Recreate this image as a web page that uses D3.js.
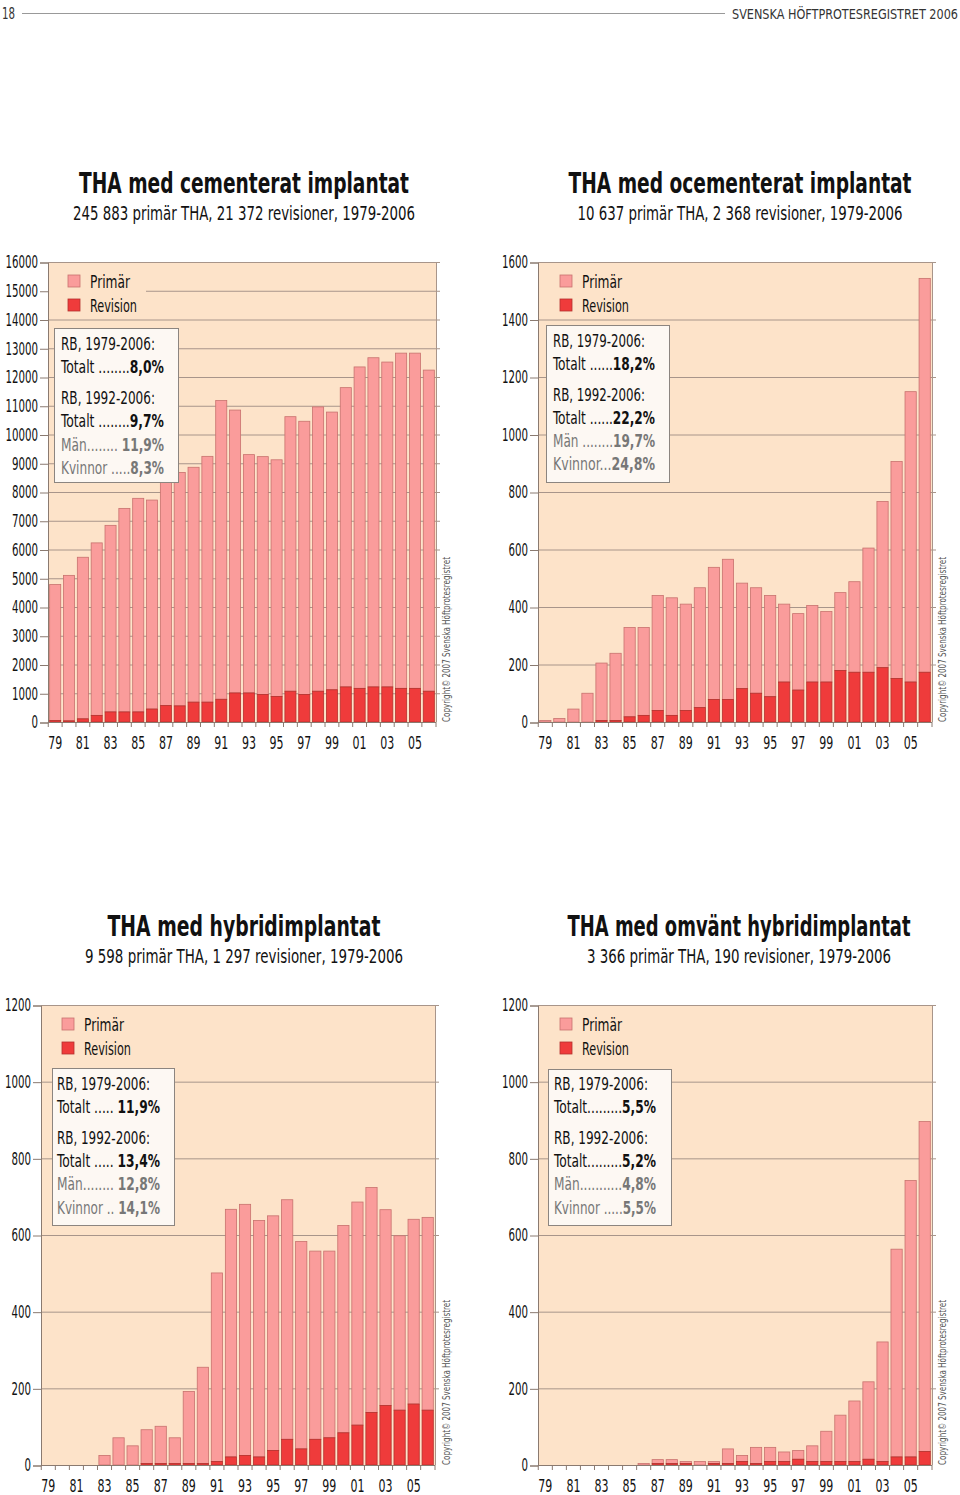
<!DOCTYPE html>
<html><head><meta charset="utf-8">
<script src="https://cdn.jsdelivr.net/npm/d3@7"></script>
<style>
body{margin:0;background:#fff;}
text{font-family:"Liberation Sans Narrow","DejaVu Sans Condensed","Roboto Condensed",sans-serif;}
</style></head><body>
<svg id="c" width="960" height="1495"></svg>
<script>
const years = ["79","80","81","82","83","84","85","86","87","88","89","90","91","92","93","94","95","96","97","98","99","00","01","02","03","04","05","06"];
const yearLabels = ["79","81","83","85","87","89","91","93","95","97","99","01","03","05"];

const cemPrimar = [4730,5060,5620,6000,6490,7080,7430,7270,7860,8120,8170,8550,10390,9840,8290,8270,8230,9550,9500,9890,9660,10410,11180,11450,11300,11660,11660,11170];
const cemRevision = [50,40,110,230,350,350,350,450,570,560,690,690,790,1010,1010,960,890,1070,960,1070,1120,1220,1170,1220,1220,1170,1170,1070];

const ocemPrimar = [5,12,45,100,200,234,311,306,400,409,370,417,460,488,367,367,352,271,266,266,245,271,315,432,578,755,1010,1370];
const ocemRevision = [0,0,0,0,5,5,18,23,40,23,40,50,78,78,116,100,88,139,111,139,139,179,173,173,189,151,139,173];

const hybPrimar = [0,0,0,0,25,71,50,88,97,67,188,251,492,646,655,617,612,625,541,491,487,541,582,587,511,455,482,503];
const hybRevision = [0,0,0,0,0,0,0,4,4,4,4,4,9,21,25,21,38,67,42,67,71,84,104,137,155,143,159,143];

const omvPrimar = [0,0,0,0,0,0,0,4,10,10,5,9,5,38,16,42,37,25,23,41,79,121,158,202,312,542,721,861];
const omvRevision = [0,0,0,0,0,0,0,0,4,4,4,0,4,4,9,4,9,9,15,9,9,9,9,15,9,21,21,35];

const cemTicks = d3.range(0,16001,1000);
const ocemTicks = d3.range(0,1601,200);
const hybTicks = d3.range(0,1201,200);
const omvTicks = d3.range(0,1201,200);

const titles = ["THA med cementerat implantat","THA med ocementerat implantat","THA med hybridimplantat","THA med omvänt hybridimplantat"];
const subtitles = ["245 883 primär THA, 21 372 revisioner, 1979-2006","10 637 primär THA, 2 368 revisioner, 1979-2006","9 598 primär THA, 1 297 revisioner, 1979-2006","3 366 primär THA, 190 revisioner, 1979-2006"];
const legendLabels = ["Primär","Revision"];
const statHeads = ["RB, 1979-2006:","RB, 1992-2006:"];
const statLabels = [
  ["Totalt ........","Totalt ........","Män........ ","Kvinnor ....."],
  ["Totalt ......","Totalt ......","Män ........","Kvinnor..."],
  ["Totalt ..... ","Totalt ..... ","Män........ ","Kvinnor .. "],
  ["Totalt.........","Totalt.........","Män...........","Kvinnor ....."]
];
const statValues = [
  ["8,0%","9,7%","11,9%","8,3%"],
  ["18,2%","22,2%","19,7%","24,8%"],
  ["11,9%","13,4%","12,8%","14,1%"],
  ["5,5%","5,2%","4,8%","5,5%"]
];
const copyright = "Copyright© 2007 Svenska Höftprotesregistret";

const C = {bg:"#fde3c9", grid:"#a8958a", prim:"#fa9c9b", primS:"#c8726e", rev:"#ef3b3b", revS:"#b5312d", axis:"#8a7a70"};
const svg = d3.select("#c");
function fit(sel,w){ return sel.attr("textLength",w).attr("lengthAdjust","spacingAndGlyphs"); }

// header
fit(svg.append("text").attr("x",2).attr("y",18.5).attr("font-size",15).attr("fill","#333").text("18"),13);
svg.append("line").attr("x1",22).attr("x2",725).attr("y1",13.5).attr("y2",13.5).attr("stroke","#999").attr("stroke-width",1);
fit(svg.append("text").attr("x",732).attr("y",19).attr("font-size",14.5).attr("fill","#333"),226).text("SVENSKA HÖFTPROTESREGISTRET 2006");

const charts = [
  {prim:cemPrimar, rev:cemRevision, ticks:cemTicks, max:16000, L:48, R:436, T:262, B:722, tx:244, ty:193, tw:330, sty:220, sw:342,
   leg:{x:68,y:281}, legRect:{x2:146,y1:266,y2:316}, box:{x1:54,x2:178,y1:328,y2:482,tx:61,hw:94,vw:103}, lines:[349,372,403,426,450,473], cx:450},
  {prim:ocemPrimar, rev:ocemRevision, ticks:ocemTicks, max:1600, L:538, R:932, T:262, B:722, tx:740, ty:193, tw:343, sty:220, sw:325,
   leg:{x:560,y:281}, legRect:null, box:{x1:546,x2:669,y1:325,y2:482,tx:553,hw:92,vw:102}, lines:[346,369,400,423,446,469], cx:946},
  {prim:hybPrimar, rev:hybRevision, ticks:hybTicks, max:1200, L:41, R:435, T:1005, B:1465, tx:244, ty:936, tw:273, sty:963, sw:318,
   leg:{x:62,y:1024}, legRect:null, box:{x1:52,x2:174,y1:1068,y2:1225,tx:57,hw:93,vw:103}, lines:[1089,1112,1143,1166,1189,1213], cx:450},
  {prim:omvPrimar, rev:omvRevision, ticks:omvTicks, max:1200, L:538, R:932, T:1005, B:1465, tx:739, ty:936, tw:343, sty:963, sw:304,
   leg:{x:560,y:1024}, legRect:null, box:{x1:548,x2:671,y1:1069,y2:1225,tx:554,hw:94,vw:102}, lines:[1089,1112,1143,1166,1189,1213], cx:946}
];

charts.forEach((c,ci)=>{
  const g = svg.append("g");
  const x = d3.scaleBand().domain(years).range([c.L,c.R]).paddingInner(0.2).paddingOuter(0.12);
  const y = d3.scaleLinear().domain([0,c.max]).range([c.B,c.T]);

  // title
  fit(g.append("text").attr("x",c.tx).attr("y",c.ty).attr("text-anchor","middle").attr("font-size",28).attr("font-weight","bold")
    .attr("fill","#111"),c.tw).text(titles[ci]);
  fit(g.append("text").attr("x",c.tx).attr("y",c.sty).attr("text-anchor","middle").attr("font-size",19.5)
    .attr("fill","#111"),c.sw).text(subtitles[ci]);

  // background
  g.append("rect").attr("x",c.L).attr("y",c.T).attr("width",c.R-c.L).attr("height",c.B-c.T).attr("fill",C.bg);

  // gridlines
  g.selectAll(".gl").data(c.ticks.filter(t=>t>0)).join("line")
    .attr("x1",c.L).attr("x2",c.R+4).attr("y1",d=>y(d)+0.5).attr("y2",d=>y(d)+0.5)
    .attr("stroke",C.grid).attr("stroke-width",1);
  g.append("line").attr("x1",c.R+0.5).attr("x2",c.R+0.5).attr("y1",c.T).attr("y2",c.B).attr("stroke",C.grid);

  // y axis
  const ya = d3.axisLeft(y).tickValues(c.ticks).tickSize(8).tickPadding(2).tickFormat(d3.format("d"));
  const yg = g.append("g").attr("transform",`translate(${c.L},0.5)`).call(ya);
  yg.select(".domain").attr("stroke",C.axis);
  yg.selectAll(".tick line").attr("stroke",C.axis);
  yg.selectAll(".tick text").attr("font-size",17).attr("fill","#111").attr("font-family",null)
    .each(function(d){ fit(d3.select(this), String(d).length*6.5); });

  // bars
  const bars = g.append("g");
  bars.selectAll(".p").data(years).join("rect")
    .attr("x",d=>x(d)).attr("width",x.bandwidth())
    .attr("y",(d,i)=>y(c.rev[i]+c.prim[i])).attr("height",(d,i)=>y(c.rev[i])-y(c.rev[i]+c.prim[i]))
    .attr("fill",C.prim).attr("stroke",(d,i)=>c.prim[i]>0?C.primS:"none").attr("stroke-width",0.8);
  bars.selectAll(".r").data(years).join("rect")
    .attr("x",d=>x(d)).attr("width",x.bandwidth())
    .attr("y",(d,i)=>y(c.rev[i])).attr("height",(d,i)=>y(0)-y(c.rev[i]))
    .attr("fill",C.rev).attr("stroke",(d,i)=>c.rev[i]>0?C.revS:"none").attr("stroke-width",0.8);

  // x axis
  g.append("line").attr("x1",c.L).attr("x2",c.R).attr("y1",c.B+0.5).attr("y2",c.B+0.5).attr("stroke",C.axis);
  const bounds = years.map(d=>x(d)-x.step()*x.paddingInner()/2).concat([c.R]);
  g.selectAll(".xt").data(bounds).join("line")
    .attr("x1",d=>d).attr("x2",d=>d).attr("y1",c.B).attr("y2",c.B+5).attr("stroke",C.axis);
  g.selectAll(".xl").data(yearLabels).join("text")
    .attr("x",d=>x(d)+x.bandwidth()/2).attr("y",c.B+27).attr("text-anchor","middle")
    .attr("font-size",17.5).attr("fill","#111").attr("textLength",14).attr("lengthAdjust","spacingAndGlyphs").text(d=>d);

  // legend
  if(c.legRect){
    g.append("rect").attr("x",c.L+1).attr("y",c.legRect.y1).attr("width",c.legRect.x2-c.L-1).attr("height",c.legRect.y2-c.legRect.y1).attr("fill",C.bg);
  }
  const legW = [40,47];
  legendLabels.forEach((lab,li)=>{
    const ly = c.leg.y + li*24;
    g.append("rect").attr("x",c.leg.x).attr("y",ly-6).attr("width",12).attr("height",12)
      .attr("fill",li?C.rev:C.prim).attr("stroke",li?C.revS:C.primS).attr("stroke-width",0.8);
    fit(g.append("text").attr("x",c.leg.x+22).attr("y",ly+6.5).attr("font-size",18).attr("fill","#111"),legW[li]).text(lab);
  });

  // stats box
  const b = c.box;
  g.append("rect").attr("x",b.x1+0.5).attr("y",b.y1+0.5).attr("width",b.x2-b.x1).attr("height",b.y2-b.y1)
    .attr("fill","#fdf8f3").attr("stroke","#8c8580").attr("stroke-width",1);
  const rows = [
    {t:statHeads[0], v:null, col:"#111"},
    {t:statLabels[ci][0], v:statValues[ci][0], col:"#111"},
    {t:statHeads[1], v:null, col:"#111"},
    {t:statLabels[ci][1], v:statValues[ci][1], col:"#111"},
    {t:statLabels[ci][2], v:statValues[ci][2], col:"#777"},
    {t:statLabels[ci][3], v:statValues[ci][3], col:"#777"}
  ];
  rows.forEach((r,ri)=>{
    const t = g.append("text").attr("x",b.tx).attr("y",c.lines[ri]+0.5).attr("font-size",18).attr("fill",r.col);
    fit(t, r.v ? b.vw : b.hw);
    t.append("tspan").text(r.t);
    if(r.v) t.append("tspan").attr("font-weight","bold").text(r.v);
  });

  // copyright
  fit(g.append("text").attr("transform",`translate(${c.cx},${c.B}) rotate(-90)`).attr("font-size",10.5)
    .attr("fill","#555"),165).text(copyright);
});
</script>
</body></html>
